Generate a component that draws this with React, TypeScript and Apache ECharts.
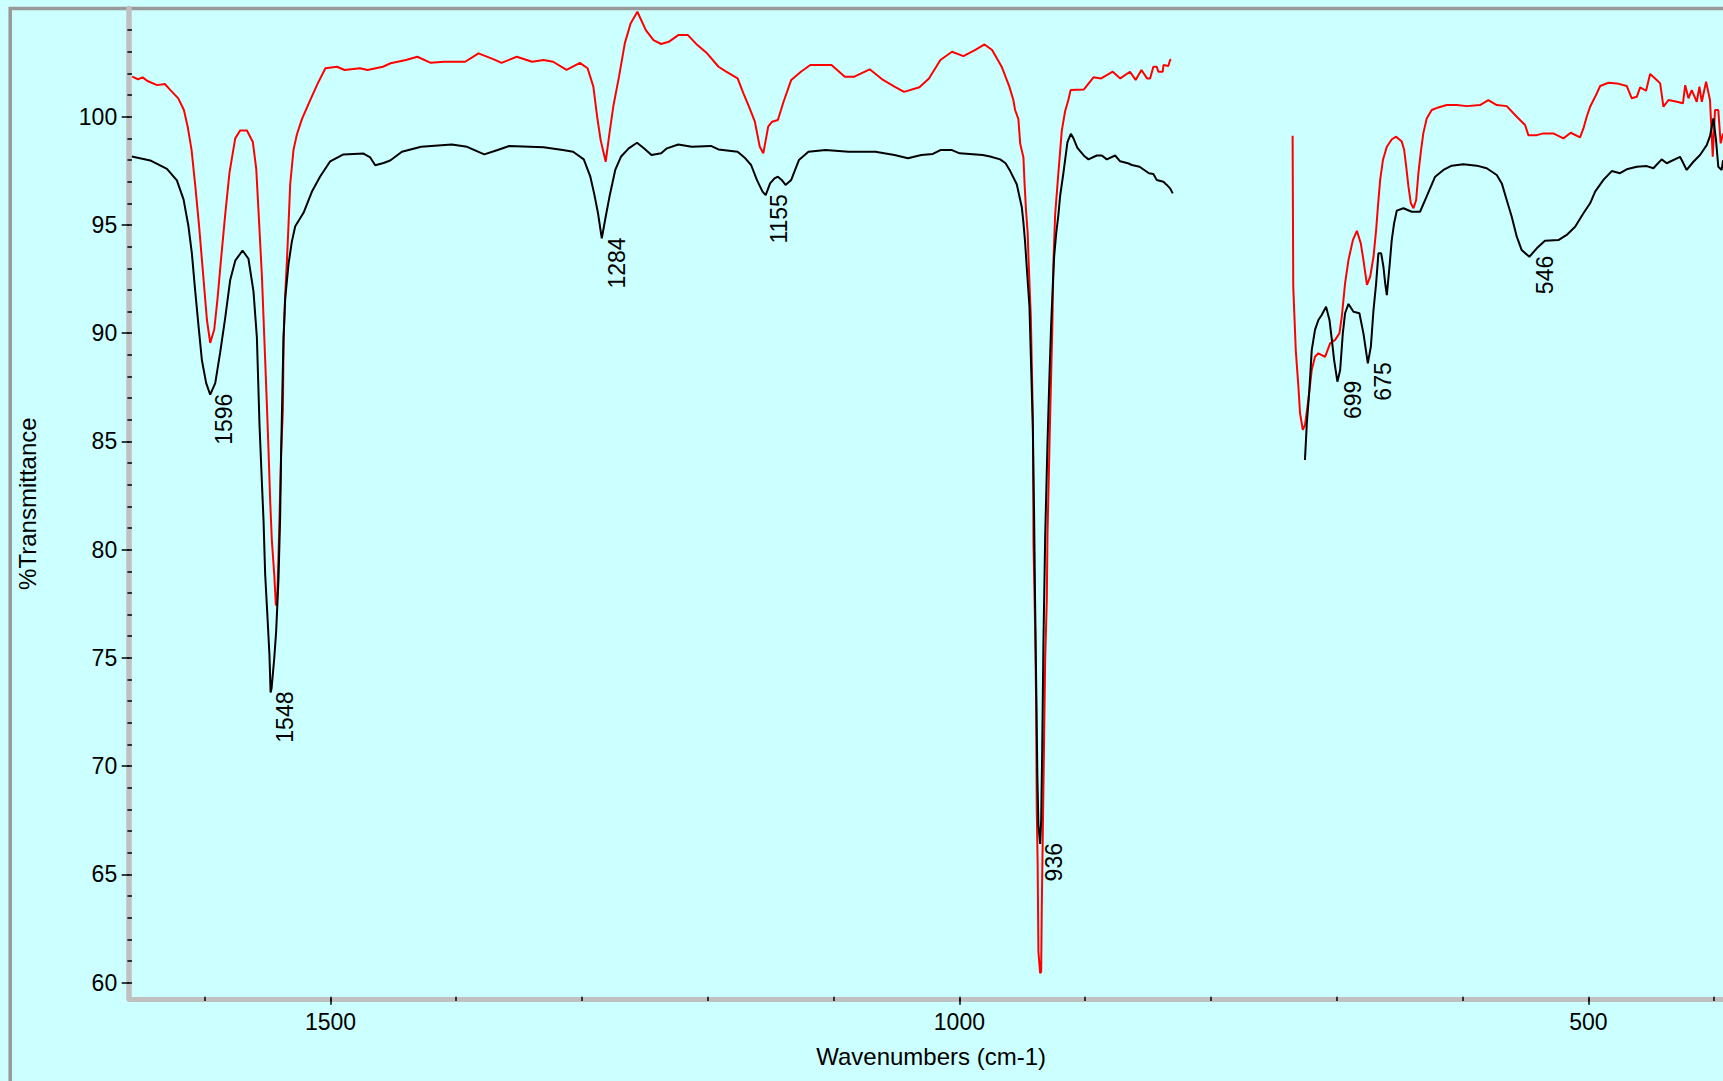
import React, { useEffect, useRef } from "react";
import * as echarts from "echarts";

// ---------- axis ticks / labels ----------
const xTickLabels = [1500, 1000, 500];
const xMinorTicks = [1600, 1500, 1400, 1300, 1200, 1100, 1000, 900, 800, 700, 600, 500, 400];
const yTickLabels = [60, 65, 70, 75, 80, 85, 90, 95, 100];
const yMinorTicks = [
  60, 61, 62, 63, 64, 65, 66, 67, 68, 69, 70, 71, 72, 73, 74, 75, 76, 77, 78, 79, 80, 81, 82,
  83, 84, 85, 86, 87, 88, 89, 90, 91, 92, 93, 94, 95, 96, 97, 98, 99, 100, 101, 102, 103, 104,
];
const xRange = [385, 1660];
const yRange = [59.25, 105];

// ---------- black spectrum ----------
const blackLeftWn = [
  1657.9, 1643.3, 1630.0, 1622.1, 1616.8, 1612.9, 1610.2, 1607.5, 1604.9, 1602.2, 1598.8, 1595.6,
  1591.6, 1587.7, 1583.7, 1579.7, 1575.7, 1569.9, 1565.2, 1561.2, 1558.5, 1556.4, 1554.5, 1553.2,
  1551.9, 1550.1, 1548.5, 1547.6, 1546.8, 1544.7, 1543.2, 1541.3, 1540.0, 1539.2, 1538.1, 1537.3,
  1536.0, 1533.4, 1530.7, 1528.0, 1521.4, 1514.8, 1508.2, 1500.2, 1489.7, 1473.7, 1468.4, 1464.4,
  1457.8, 1452.5, 1443.2, 1427.9, 1403.6, 1391.4, 1377.7, 1367.1, 1357.9, 1330.6, 1315.3, 1307.1,
  1298.6, 1293.4, 1290.4, 1287.3, 1284.3, 1281.2, 1278.2, 1273.6, 1269.1, 1262.9, 1256.3, 1250.8,
  1244.8, 1237.1, 1232.5, 1223.5, 1212.8, 1197.6, 1191.5, 1176.3, 1170.2, 1165.6, 1161.0, 1156.5,
  1154.0, 1150.5, 1147.0, 1144.3, 1141.3, 1138.2, 1133.7, 1127.6, 1120.0, 1106.4, 1088.1, 1066.8,
  1051.6, 1040.9, 1030.3, 1021.1, 1015.1, 1005.9, 999.8, 981.5, 975.6, 967.6, 963.3, 959.7, 954.4,
  950.4, 949.1, 947.8, 946.4, 944.3, 943.2, 941.6, 940.6, 939.8, 939.0, 938.0, 937.2, 935.8, 935.0,
  934.2, 933.2, 931.8, 930.0, 928.4, 927.1, 925.7, 924.7, 923.1, 921.3, 919.9, 917.3, 914.1, 911.4,
  909.3, 906.2, 901.0, 897.4, 890.8, 886.8, 882.8, 876.2, 872.2, 866.0, 862.9, 856.8, 849.3, 845.8,
  843.1, 837.8, 835.1, 832.5, 830.4,
];
const blackLeftT = [
  98.16, 97.98, 97.59, 97.06, 96.18, 94.94, 93.7, 91.93, 90.34, 88.75, 87.69, 87.16,
  87.69, 89.1, 90.7, 92.46, 93.35, 93.82, 93.44, 91.93, 89.81, 85.75, 83.09, 81.33,
  78.85, 76.91, 75.14, 73.4, 73.6, 74.97, 76.2, 78.67, 81.51, 84.51, 87.69, 89.81,
  91.58, 93.17, 94.23, 94.94, 95.56, 96.53, 97.24, 97.94, 98.26, 98.3, 98.12, 97.76,
  97.86, 97.98, 98.38, 98.61, 98.72, 98.61, 98.26, 98.46, 98.65, 98.59, 98.46, 98.38,
  98.03, 97.23, 96.46, 95.54, 94.38, 95.38, 96.3, 97.54, 98.15, 98.54, 98.8, 98.54,
  98.23, 98.31, 98.54, 98.72, 98.61, 98.65, 98.49, 98.38, 98.08, 97.77, 97.08, 96.54,
  96.38, 96.92, 97.15, 97.23, 97.08, 96.85, 97.08, 98.0, 98.38, 98.46, 98.38, 98.38,
  98.23, 98.08, 98.23, 98.28, 98.46, 98.46, 98.31, 98.23, 98.16, 98.03, 97.85, 97.5, 96.88,
  95.82, 95.11, 94.23, 92.99, 91.22, 88.93, 85.57, 81.51, 77.5, 74.0, 69.5, 67.3, 66.4, 67.5,
  70.6, 75.7, 80.62, 84.86, 88.05, 90.34, 92.29, 93.52, 94.59, 95.47, 96.35, 97.41, 98.83, 99.21,
  99.0, 98.56, 98.2, 98.03, 98.21, 98.21, 98.03, 98.21, 97.94, 97.85, 97.77, 97.69, 97.39, 97.35,
  97.08, 97.0, 96.85, 96.69, 96.46,
];
const blackRightWn = [
  725.3, 723.8, 721.8, 719.9, 717.3, 714.6, 712.0, 708.5, 705.8, 703.9, 702.1, 699.5, 697.3, 695.2,
  693.4, 690.7, 686.7, 682.0, 678.8, 675.3, 672.9, 670.8, 668.7, 666.9, 664.7, 662.9, 661.5, 660.2,
  658.1, 656.3, 654.4, 652.3, 647.0, 640.4, 633.8, 629.8, 625.8, 621.8, 615.2, 608.6, 599.3, 588.7,
  580.8, 572.8, 568.8, 564.9, 560.9, 556.9, 553.0, 546.9, 541.0, 534.5, 523.8, 517.2, 510.5, 503.9,
  498.6, 494.6, 488.0, 481.4, 474.8, 469.5, 461.5, 453.6, 448.3, 441.7, 437.7, 427.1, 421.8, 416.5,
  411.2, 405.9, 403.3, 400.6, 398.5, 396.7, 394.0, 392.9,
];
const blackRightT = [
  84.14, 85.84, 87.38, 89.22, 90.15, 90.61, 90.84, 91.22, 90.61, 89.69, 88.76, 87.76, 88.3, 89.99,
  90.92, 91.35, 90.99, 90.92, 89.99, 88.61, 89.38, 91.07, 92.3, 93.69, 93.69, 93.07, 92.3, 91.76,
  93.07, 94.3, 95.08, 95.66, 95.77, 95.61, 95.61, 96.15, 96.69, 97.23, 97.54, 97.74, 97.8, 97.74,
  97.62, 97.31, 96.92, 96.15, 95.38, 94.46, 93.84, 93.53, 93.92, 94.27, 94.3, 94.54, 94.92, 95.54,
  96.0, 96.54, 97.08, 97.49, 97.39, 97.57, 97.69, 97.72, 97.62, 98.03, 97.85, 98.15, 97.54, 97.92,
  98.23, 98.69, 99.1, 99.92, 98.92, 97.69, 97.54, 98.0,
];

// ---------- red spectrum ----------
const redLeftWn = [
  1657.6, 1653.0, 1649.3, 1645.5, 1637.8, 1631.7, 1627.2, 1621.0, 1616.5, 1613.5, 1610.4, 1607.4,
  1604.4, 1601.3, 1598.2, 1595.6, 1592.4, 1589.8, 1587.1, 1583.7, 1580.3, 1575.7, 1571.8, 1566.4,
  1561.7, 1559.0, 1557.2, 1554.5, 1551.9, 1550.5, 1549.3, 1547.9, 1546.6, 1544.7, 1543.4, 1542.6,
  1541.8, 1540.5, 1539.2, 1537.8, 1537.3, 1536.0, 1534.6, 1533.4, 1532.0, 1529.4, 1526.7, 1522.7,
  1518.7, 1516.1, 1510.1, 1504.0, 1494.8, 1488.8, 1476.6, 1470.5, 1458.3, 1452.2, 1440.0, 1430.9,
  1420.3, 1409.7, 1392.9, 1382.3, 1370.1, 1364.0, 1351.9, 1339.7, 1330.6, 1323.0, 1312.3, 1301.7,
  1295.6, 1291.0, 1288.0, 1285.2, 1281.2, 1278.2, 1275.2, 1270.6, 1266.0, 1261.4, 1256.0, 1249.3,
  1243.2, 1237.1, 1231.1, 1223.5, 1215.8, 1208.3, 1200.6, 1191.5, 1185.4, 1176.3, 1171.7, 1167.2,
  1162.6, 1158.7, 1155.9, 1152.0, 1148.9, 1144.3, 1139.8, 1133.7, 1126.0, 1118.5, 1101.7, 1091.1,
  1083.5, 1071.3, 1060.7, 1051.6, 1044.0, 1031.8, 1024.2, 1015.1, 1005.9, 996.8, 987.7, 980.0,
  974.0, 966.4, 960.3, 957.1, 955.7, 953.1, 951.7, 949.1, 948.2, 947.0, 945.7, 945.1, 943.2, 941.6,
  941.1, 939.8, 939.0, 938.5, 937.8, 937.2, 935.8, 935.0, 934.5, 933.2, 931.8, 930.5, 930.0, 927.9,
  926.1, 925.2, 923.9, 921.3, 918.6, 916.0, 913.4, 911.6, 901.0, 893.4, 887.3, 878.1, 872.1, 864.4,
  859.9, 855.3, 850.8, 848.4, 845.8, 843.1, 841.8, 838.3, 837.8, 833.9, 832.5, 831.7,
];
const redLeftT = [
  101.85, 101.73, 101.82, 101.65, 101.46, 101.51, 101.23, 100.85, 100.31, 99.54, 98.46, 96.77,
  94.92, 92.77, 90.61, 89.55, 90.17, 91.58, 93.35, 95.47, 97.41, 99.0, 99.36, 99.36,
  98.83, 97.59, 95.64, 92.64, 88.75, 86.63, 84.68, 82.21, 80.44, 78.85, 77.44, 77.44,
  78.67, 81.51, 84.51, 86.45, 89.64, 91.76, 93.35, 94.94, 96.88, 98.47, 99.18, 99.89,
  100.42, 100.77, 101.54, 102.24, 102.31, 102.16, 102.24, 102.16, 102.31, 102.47, 102.62, 102.77,
  102.49, 102.54, 102.54, 102.93, 102.65, 102.49, 102.77, 102.54, 102.62, 102.54, 102.16, 102.49,
  102.24, 101.39, 100.0, 98.92, 97.92, 99.23, 100.46, 101.85, 103.39, 104.31, 104.85, 104.0,
  103.54, 103.36, 103.46, 103.77, 103.77, 103.31, 102.93, 102.31, 102.08, 101.77, 101.08, 100.46,
  99.77, 98.61, 98.31, 99.54, 99.77, 99.85, 100.69, 101.7, 102.08, 102.39, 102.39, 101.85,
  101.85, 102.19, 101.7, 101.39, 101.15, 101.36, 101.77, 102.62, 103.0, 102.8, 103.08, 103.34,
  103.08, 102.31, 101.39, 100.77, 100.31, 99.89, 98.77, 98.12, 96.92, 95.64, 94.61, 93.52, 90.7, 86.1,
  80.27, 76.4, 72.9, 68.0, 65.5, 61.43, 60.43, 60.5, 63.51, 68.98, 74.98, 77.68, 80.62, 86.1,
  90.34, 93.35, 95.47, 97.41, 99.36, 100.24, 100.77, 101.23, 101.26, 101.82, 101.77, 102.08, 101.77, 102.08,
  101.7, 102.16, 101.77, 101.77, 102.31, 102.31, 102.08, 102.08, 102.39, 102.34, 102.62, 102.65,
];
const redRightWn = [
  735.1, 734.6, 732.6, 730.5, 729.2, 727.0, 725.2, 722.6, 719.9, 717.3, 714.6, 709.3, 705.3, 701.3,
  697.9, 696.0, 693.4, 690.7, 687.2, 684.0, 680.9, 678.8, 676.0, 673.4, 670.8, 668.7, 667.3, 665.5,
  663.3, 660.2, 656.2, 652.8, 648.3, 646.4, 644.8, 643.0, 641.1, 639.0, 636.9, 635.1, 633.0, 631.2,
  628.5, 624.5, 619.3, 612.6, 604.6, 596.7, 586.1, 579.5, 572.8, 564.9, 556.9, 550.3, 547.7, 541.0,
  535.7, 527.8, 519.8, 514.0, 506.6, 503.9, 501.3, 498.6, 494.6, 490.6, 484.0, 477.3, 469.5, 465.5,
  461.5, 458.8, 454.1, 450.9, 446.9, 442.9, 440.3, 436.3, 429.6, 424.8, 423.0, 420.4, 417.8, 413.8,
  411.7, 409.8, 406.4, 403.3, 401.1, 399.3, 396.7, 394.8, 392.9,
];
const redRightT = [
  99.12, 92.15, 89.22, 87.53, 86.3, 85.53, 85.76, 86.91, 88.3, 88.91, 89.07, 88.91, 89.53, 89.69,
  89.99, 90.76, 92.3, 93.38, 94.3, 94.73, 94.15, 93.38, 92.23, 92.61, 93.53, 94.77, 95.84, 97.08,
  98.0, 98.61, 98.96, 99.08, 98.85, 98.46, 97.69, 96.77, 96.0, 95.77, 96.15, 97.39, 98.46, 99.23,
  99.92, 100.31, 100.43, 100.54, 100.54, 100.49, 100.54, 100.77, 100.54, 100.49, 100.0, 99.62, 99.15, 99.15,
  99.23, 99.23, 99.0, 99.26, 99.05, 99.46, 100.0, 100.46, 100.92, 101.42, 101.57, 101.54, 101.42, 100.85,
  100.92, 101.36, 101.2, 101.97, 101.77, 101.54, 100.46, 100.77, 100.69, 100.62, 101.46, 100.85, 101.23, 100.69,
  101.39, 100.69, 101.62, 100.77, 98.15, 100.31, 100.31, 98.77, 99.23,
];

// ---------- annotated peaks (black trace) ----------
const peakWavenumbers = [1596, 1548, 1284, 1155, 936, 699, 675, 546];
const peakValues = [87.16, 73.4, 94.38, 96.38, 66.4, 87.76, 88.61, 93.53];

const FONT = "'Liberation Sans', Arial, Helvetica, sans-serif";
const GAP_WN = 780;

function pairs(xs: number[], ys: number[]) {
  return xs.map((x, i) => [x, ys[i]]);
}

export default function App() {
  const ref = useRef<HTMLDivElement>(null);

  useEffect(() => {
    document.body.style.margin = "0";
    document.body.style.background = "#CCFFFF";
    document.body.style.overflow = "hidden";
    document.documentElement.style.overflow = "hidden";
    if (!ref.current) return;
    const chart = echarts.init(ref.current, undefined, { renderer: "svg" });

    const redData: any[] = [...pairs(redLeftWn, redLeftT), [GAP_WN, "-"], ...pairs(redRightWn, redRightT)];
    const blackData: any[] = [
      ...pairs(blackLeftWn, blackLeftT),
      [GAP_WN, "-"],
      ...pairs(blackRightWn, blackRightT),
    ];
    const peakData = pairs(peakWavenumbers, peakValues);

    const labelStyle = {
      color: "#000",
      fontSize: 23,
      fontFamily: FONT,
      formatter: (v: number) => String(v),
    };

    chart.setOption({
      animation: false,
      backgroundColor: "#CCFFFF",
      grid: {
        left: 129.2,
        top: 8.5,
        right: 0,
        bottom: 82.2,
        containLabel: false,
        outerBoundsMode: "none",
      },
      graphic: [
        {
          type: "rect",
          silent: true,
          z: -10,
          shape: { x: 10.2, y: 8.4, width: 2000, height: 2000 },
          style: { fill: "none", stroke: "#999999", lineWidth: 3.5 },
        },
      ],
      xAxis: [
        {
          type: "value",
          position: "bottom",
          inverse: true,
          min: xRange[0],
          max: xRange[1],
          name: "Wavenumbers (cm-1)",
          nameLocation: "middle",
          nameGap: 46,
          nameTextStyle: { color: "#000", fontSize: 24, fontFamily: FONT },
          axisLine: { show: true, onZero: false, lineStyle: { color: "#C0C0C0", width: 5 } },
          axisTick: {
            show: true,
            inside: false,
            length: 6,
            customValues: xTickLabels,
            lineStyle: { color: "#000", width: 1.5 },
          },
          axisLabel: { show: true, margin: 12, customValues: xTickLabels, ...labelStyle },
          splitLine: { show: false },
        },
        {
          type: "value",
          position: "bottom",
          offset: 2.2,
          inverse: true,
          min: xRange[0],
          max: xRange[1],
          z: 5,
          axisLine: { show: false, onZero: false },
          axisTick: {
            show: true,
            inside: true,
            length: 4.3,
            customValues: xMinorTicks,
            lineStyle: { color: "#000", width: 1.5 },
          },
          axisLabel: { show: false },
          splitLine: { show: false },
        },
      ],
      yAxis: [
        {
          type: "value",
          position: "left",
          min: yRange[0],
          max: yRange[1],
          name: "%Transmittance",
          nameLocation: "middle",
          nameRotate: 90,
          nameGap: 90,
          nameTextStyle: { color: "#000", fontSize: 24, fontFamily: FONT },
          axisLine: { show: true, onZero: false, lineStyle: { color: "#C0C0C0", width: 5.5 } },
          axisTick: {
            show: true,
            inside: false,
            length: 7.5,
            customValues: yTickLabels,
            lineStyle: { color: "#000", width: 1.5 },
          },
          axisLabel: { show: true, margin: 12, customValues: yTickLabels, ...labelStyle },
          splitLine: { show: false },
        },
        {
          type: "value",
          position: "left",
          offset: 1.8,
          min: yRange[0],
          max: yRange[1],
          z: 5,
          axisLine: { show: false, onZero: false },
          axisTick: {
            show: true,
            inside: true,
            length: 4.6,
            customValues: yMinorTicks,
            lineStyle: { color: "#000", width: 1.5 },
          },
          axisLabel: { show: false },
          splitLine: { show: false },
        },
      ],
      series: [
        {
          name: "Red spectrum",
          type: "line",
          xAxisIndex: 0,
          yAxisIndex: 0,
          data: redData,
          showSymbol: false,
          symbol: "none",
          connectNulls: false,
          silent: true,
          z: 2,
          lineStyle: { color: "#FF0000", width: 2 },
          itemStyle: { color: "#FF0000" },
        },
        {
          name: "Black spectrum",
          type: "line",
          xAxisIndex: 0,
          yAxisIndex: 0,
          data: blackData,
          showSymbol: false,
          symbol: "none",
          connectNulls: false,
          silent: true,
          z: 3,
          lineStyle: { color: "#000000", width: 2 },
          itemStyle: { color: "#000000" },
        },
        {
          name: "Peak labels",
          type: "custom",
          xAxisIndex: 0,
          yAxisIndex: 0,
          data: peakData,
          silent: true,
          z: 4,
          encode: { x: 0, y: 1 },
          renderItem: (_params: any, api: any) => {
            const wn = api.value(0);
            const pt = api.coord([wn, api.value(1)]);
            return {
              type: "text",
              x: pt[0] + 14.5,
              y: pt[1] - 1,
              rotation: Math.PI / 2,
              style: {
                text: String(wn),
                fill: "#000",
                fontSize: 23,
                fontFamily: FONT,
                align: "right",
                verticalAlign: "middle",
              },
            };
          },
        },
      ],
    });

    return () => chart.dispose();
  }, []);

  return (
    <div
      ref={ref}
      style={{ position: "fixed", left: 0, top: 0, width: 1733, height: 1081, background: "#CCFFFF" }}
    />
  );
}
